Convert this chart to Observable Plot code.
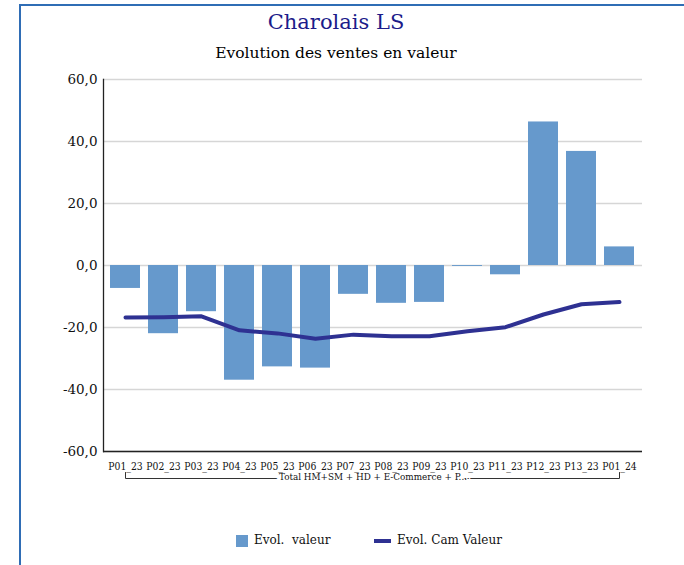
<!DOCTYPE html>
<html>
<head>
<meta charset="utf-8">
<script src="https://cdn.jsdelivr.net/npm/d3@7"></script>
<script src="https://cdn.jsdelivr.net/npm/@observablehq/plot@0.6"></script>
<style>
  html, body { margin: 0; padding: 0; background: #fff; }
  #wrap { position: relative; width: 684px; height: 565px; overflow: hidden; font-family: "DejaVu Serif", serif; }
  #border { position: absolute; left: 19px; top: 4px; right: -10px; bottom: -10px; border-top: 2px solid #2f6db5; border-left: 2px solid #2f6db5; }
  #title { position: absolute; left: 0; width: 672px; top: 10px; text-align: center; font-size: 21px; color: #1c1c8a; }
  #subtitle { position: absolute; left: 0; width: 672px; top: 44px; text-align: center; font-size: 15.5px; color: #000; }
  #chart { position: absolute; left: 0; top: 0; }
  #legend { position: absolute; top: 533px; left: 0; width: 684px; height: 20px; font-size: 12px; color: #111; }
  .sw { position: absolute; }
  .lt { position: absolute; white-space: pre; top: 0px; }
  .cond { font-family: "DejaVu Serif Condensed", "DejaVu Serif", serif; font-stretch: condensed; }
</style>
</head>
<body>
<div id="wrap">
  <div id="border"></div>
  <div id="chart"></div>
  <div id="title"></div>
  <div id="subtitle"></div>
  <div id="legend"></div>
</div>
<script>
const titleText = "Charolais LS";
const subtitleText = "Evolution des ventes en valeur";
const groupLabel = "Total HM+SM + HD + E-Commerce + P...";
const categories = ["P01_23","P02_23","P03_23","P04_23","P05_23","P06_23","P07_23","P08_23","P09_23","P10_23","P11_23","P12_23","P13_23","P01_24"];
const evolValeur = [-7.4,-22.0,-14.9,-37.0,-32.7,-33.1,-9.3,-12.2,-11.9,-0.3,-3.0,46.3,36.8,6.0];
const evolCamValeur = [-16.8,-16.7,-16.4,-20.9,-21.9,-23.6,-22.3,-22.8,-22.8,-21.2,-19.9,-15.8,-12.5,-11.8];
const yTicks = [-60,-40,-20,0,20,40,60];
const seriesNames = ["Evol.  valeur", "Evol. Cam Valeur"];

const barColor = "#6699cc";
const lineColor = "#2e3192";

document.getElementById("title").textContent = titleText;
document.getElementById("subtitle").textContent = subtitleText;

const data = categories.map((c, i) => ({cat: c, v: evolValeur[i], cam: evolCamValeur[i]}));

const W = 684, H = 500, mt = 79, mb = 49, ml = 103, mr = 42;
const yMin = yTicks[0], yMax = yTicks[yTicks.length - 1];
const pxPerUnit = (H - mt - mb) / (yMax - yMin);
const bracketY = yMin - 27 / pxPerUnit;
const bracketTop = yMin - 21 / pxPerUnit;
const first = categories[0], last = categories[categories.length - 1];
const bracket = [
  {x: first, y: bracketTop}, {x: first, y: bracketY},
  {x: last, y: bracketY}, {x: last, y: bracketTop}
];

const chart = Plot.plot({
  width: W, height: H,
  marginTop: mt, marginBottom: mb, marginLeft: ml, marginRight: mr,
  style: {fontFamily: "DejaVu Serif", background: "transparent", color: "#111"},
  x: {domain: categories, paddingInner: 0.21, paddingOuter: 0.105, axis: null},
  y: {domain: [yMin, yMax], axis: null},
  marks: [
    Plot.ruleY(yTicks, {stroke: "#d6d6d6", strokeWidth: 1.5}),
    Plot.barY(data, {x: "cat", y: "v", fill: barColor}),
    Plot.lineY(data, {x: "cat", y: "cam", stroke: lineColor, strokeWidth: 4, strokeLinejoin: "round"}),
    Plot.ruleY([yMin], {stroke: "#222", strokeWidth: 1.3}),
    Plot.frame({anchor: "left", stroke: "#222", strokeWidth: 1.3}),
    Plot.line(bracket, {x: "x", y: "y", stroke: "#333", strokeWidth: 1}),
    Plot.text([groupLabel], {text: d => d, frameAnchor: "middle", y: bracketY, dy: -1.5, fontSize: 9.8, fill: "#111", stroke: "white", strokeWidth: 8, className: "cond"}),
    Plot.axisX({tickSize: 0, tickPadding: 11.5, fontSize: 10.3, label: null, className: "cond"}),
    Plot.axisY({ticks: yTicks, tickFormat: d => d.toFixed(1).replace(".", ","), tickSize: 0, tickPadding: 6, fontSize: 13.5, label: null})
  ]
});
document.getElementById("chart").appendChild(chart);

const legend = document.getElementById("legend");
legend.innerHTML =
  `<div class="sw" style="left:236px;top:2px;width:12px;height:12px;background:${barColor}"></div>` +
  `<div class="lt" style="left:254px"></div>` +
  `<div class="sw" style="left:374px;top:6px;width:17px;height:4px;background:${lineColor}"></div>` +
  `<div class="lt" style="left:397px"></div>`;
const lts = legend.querySelectorAll(".lt");
lts[0].textContent = seriesNames[0];
lts[1].textContent = seriesNames[1];
</script>
</body>
</html>
